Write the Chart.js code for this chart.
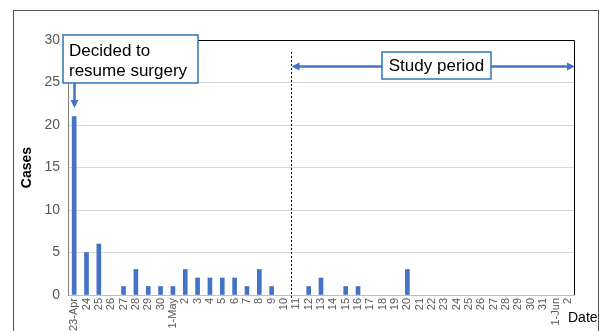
<!DOCTYPE html>
<html>
<head>
<meta charset="utf-8">
<script src="https://cdn.jsdelivr.net/npm/chart.js@4"></script>
<style>
  html, body { margin: 0; padding: 0; background: #fff; }
  #wrap { width: 606px; height: 331px; }
</style>
</head>
<body>
<div id="wrap"><canvas id="casesChart" width="606" height="331"></canvas></div>
<script>
const dates = [
    '23-Apr', '24', '25', '26', '27', '28', '29', '30',
    '1-May', '2', '3', '4', '5', '6', '7', '8', '9', '10',
    '11', '12', '13', '14', '15', '16', '17', '18', '19', '20',
    '21', '22', '23', '24', '25', '26', '27', '28', '29', '30', '31',
    '1-Jun', '2'
];
const cases = [
    21, 5, 6, 0, 1, 3, 1, 1,
    1, 3, 2, 2, 2, 2, 1, 3, 1, 0,
    0, 1, 2, 0, 1, 1, 0, 0, 0, 3,
    0, 0, 0, 0, 0, 0, 0, 0, 0, 0, 0,
    0, 0
];
const yTicks = [0, 5, 10, 15, 20, 25, 30];
const studyStartIndex = 18; // 11 May

const blue = '#4472C4';
const font = '"Liberation Sans", Arial, sans-serif';

function arrowHead(ctx, x, y, dir) {
    // dir: 'down', 'left', 'right'
    ctx.beginPath();
    if (dir === 'down') {
        ctx.moveTo(x, y);
        ctx.lineTo(x - 4, y - 8);
        ctx.lineTo(x + 4, y - 8);
    } else if (dir === 'left') {
        ctx.moveTo(x, y);
        ctx.lineTo(x + 8, y - 4);
        ctx.lineTo(x + 8, y + 4);
    } else {
        ctx.moveTo(x, y);
        ctx.lineTo(x - 8, y - 4);
        ctx.lineTo(x - 8, y + 4);
    }
    ctx.closePath();
    ctx.fill();
}

const overlay = {
    id: 'overlay',
    afterDraw(chart) {
        const ctx = chart.ctx;
        const area = chart.chartArea;
        const xs = chart.scales.x;
        const ys = chart.scales.y;
        ctx.save();

        // outer frame
        ctx.strokeStyle = '#555';
        ctx.lineWidth = 1;
        ctx.strokeRect(13.5, 10.5, 585, 340);

        // plot border top and right
        ctx.strokeStyle = '#000';
        ctx.beginPath();
        ctx.moveTo(area.left, area.top + 0.5);
        ctx.lineTo(area.right + 0.5, area.top + 0.5);
        ctx.lineTo(area.right + 0.5, area.bottom);
        ctx.stroke();

        // dashed line at study start
        const dashX = Math.round((xs.getPixelForValue(studyStartIndex - 1) + xs.getPixelForValue(studyStartIndex)) / 2) + 1.5;
        ctx.setLineDash([2, 2]);
        ctx.strokeStyle = '#000';
        ctx.beginPath();
        ctx.moveTo(dashX, ys.getPixelForValue(28.6));
        ctx.lineTo(dashX, area.bottom + 3);
        ctx.stroke();
        ctx.setLineDash([]);

        // study period arrow
        const arrowY = Math.round(ys.getPixelForValue(26.9)) + 0.5;
        ctx.strokeStyle = blue;
        ctx.fillStyle = blue;
        ctx.lineWidth = 2.5;
        ctx.beginPath();
        ctx.moveTo(dashX + 4, arrowY);
        ctx.lineTo(area.right - 4, arrowY);
        ctx.stroke();
        arrowHead(ctx, dashX, arrowY, 'left');
        arrowHead(ctx, area.right + 1, arrowY, 'right');

        // study period box
        ctx.lineWidth = 1.5;
        ctx.fillStyle = '#fff';
        ctx.fillRect(382, 52, 109, 27);
        ctx.strokeStyle = '#2E75B6';
        ctx.strokeRect(382, 52, 109, 27);
        ctx.fillStyle = '#000';
        ctx.font = '17px ' + font;
        ctx.textAlign = 'center';
        ctx.textBaseline = 'middle';
        ctx.fillText('Study period', 436.5, 66);

        // decided arrow
        const barX = Math.round(xs.getPixelForValue(0)) + 0.5;
        ctx.strokeStyle = blue;
        ctx.fillStyle = blue;
        ctx.lineWidth = 2.5;
        ctx.beginPath();
        ctx.moveTo(barX, 83);
        ctx.lineTo(barX, ys.getPixelForValue(22) - 6);
        ctx.stroke();
        arrowHead(ctx, barX, ys.getPixelForValue(22), 'down');

        // decided box
        ctx.lineWidth = 1.5;
        ctx.fillStyle = '#fff';
        ctx.fillRect(63, 35, 135, 48);
        ctx.strokeStyle = '#2E75B6';
        ctx.strokeRect(63, 35, 135, 48);
        ctx.fillStyle = '#000';
        ctx.textAlign = 'left';
        ctx.fillText('Decided to', 69, 51);
        ctx.fillText('resume surgery', 69, 71);

        // x axis title
        ctx.font = '14px ' + font;
        ctx.textAlign = 'left';
        ctx.fillText('Date', 568, 318);

        ctx.restore();
    }
};

const ctx = document.getElementById('casesChart').getContext('2d');
new Chart(ctx, {
    type: 'bar',
    data: {
        labels: dates,
        datasets: [{
            label: 'Cases',
            // zero days have no bar at all
            data: cases.map(v => v === 0 ? null : v),
            backgroundColor: blue,
            barThickness: 4
        }]
    },
    options: {
        responsive: false,
        animation: false,
        layout: { padding: { left: 13, top: 40, right: 32, bottom: 0 } },
        plugins: {
            legend: { display: false },
            tooltip: { enabled: false }
        },
        scales: {
            x: {
                offset: true,
                afterFit: (scale) => { scale.height = 36; },
                grid: { display: false, drawTicks: false },
                border: { color: '#BFBFBF' },
                ticks: {
                    autoSkip: false,
                    minRotation: 90,
                    maxRotation: 90,
                    padding: 3,
                    color: '#595959',
                    font: { family: font, size: 11 }
                }
            },
            y: {
                min: 0,
                max: 30,
                afterFit: (scale) => { scale.width = 55; },
                afterBuildTicks: (scale) => { scale.ticks = yTicks.map(v => ({ value: v })); },
                grid: { color: '#D9D9D9', drawTicks: false },
                border: { color: '#7F7F7F' },
                title: {
                    display: true,
                    text: 'Cases',
                    color: '#000',
                    padding: { top: 6, bottom: 0 },
                    font: { family: font, size: 14, weight: 'bold' }
                },
                ticks: {
                    padding: 8,
                    color: '#595959',
                    font: { family: font, size: 14 }
                }
            }
        }
    },
    plugins: [overlay]
});
</script>
</body>
</html>
